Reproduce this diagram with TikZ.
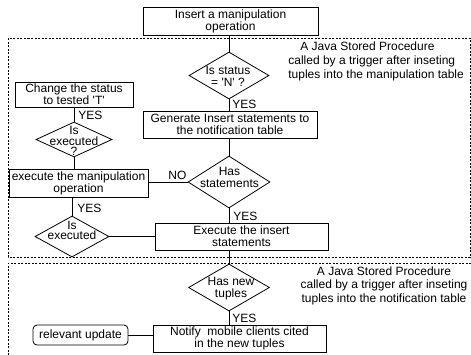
\documentclass[tikz,border=0pt]{standalone}
\usepackage{fontspec}
\setmainfont{Liberation Sans}[Ligatures=TeXOff]
\usetikzlibrary{shapes.geometric}
\newcommand\myfs{\fontsize{12}{12}\selectfont}
\newcommand\myfst{\fontsize{12}{10.5}\selectfont}
\begin{document}
\begin{tikzpicture}[x=1pt,y=-1pt, line width=0.8pt,
  box/.style={draw, rectangle, inner sep=0pt, align=center, font=\myfs},
  dia/.style={draw, diamond, inner sep=0pt},
  txt/.style={inner sep=0pt, align=center, font=\myfs},
  lbl/.style={inner sep=0pt, font=\myfs, anchor=west},
  region/.style={draw, dash pattern=on 2pt off 1.5pt, line width=0.7pt}]
\useasboundingbox (0,0) rectangle (471,354);

% dashed regions
\draw[region] (8,38) rectangle (470,257);
\draw[region] (471,263) -- (8,263) -- (8,360);

% main column
\node[box, minimum width=175pt, minimum height=28pt] (top) at (230.5,21) {Insert a manipulation\\operation};
\node[dia, minimum width=80pt, minimum height=47pt] (d1) at (229,75.5) {};
\node[txt] (t1) at (228,76.5) {Is status\\= 'N' ?};
\node[box, minimum width=174pt, minimum height=27pt] (gen) at (230,124.5) {Generate Insert statements to\\the notification table};
\node[dia, minimum width=82pt, minimum height=52pt] (d2) at (229,182) {};
\node[txt] (t2) at (229.5,177.5) {Has\\statements};
\node[box, minimum width=173pt, minimum height=27pt] (ins) at (241.5,236.5) {Execute the insert\\statements};
\node[dia, minimum width=81pt, minimum height=47pt] (d3) at (229,287.5) {};
\node[txt] (t3) at (231,288.5) {Has new\\tuples};
\node[box, minimum width=173pt, minimum height=27pt] (notify) at (239.5,338.5) {Notify\ \ mobile clients cited\\in the new tuples};

% left column
\node[box, minimum width=118pt, minimum height=25pt] (change) at (74,94.5) {Change the status\\to tested 'T'};
\node[dia, minimum width=76pt, minimum height=35pt] (du) at (74,139.5) {};
\node[txt, font=\myfst] (tu) at (74,141) {Is\\executed\\?};
\node[box, minimum width=139pt, minimum height=28pt, font=\fontsize{12}{10.5}\selectfont] (exec) at (78.5,183) {execute the manipulation\\operation};
\node[dia, minimum width=74pt, minimum height=41pt] (dl) at (72,236.5) {};
\node[txt, font=\myfst] (tl) at (72,230.5) {Is\\executed};
\node[box, rounded corners=4pt, minimum width=95pt, minimum height=20pt] (rel) at (80.5,335) {relevant update};

% annotations
\node[inner sep=0pt, anchor=west, align=left, font=\fontsize{12}{14}\selectfont] (j1) at (288,61)
  {\hspace*{12pt}A Java Stored Procedure\\called by a trigger after inseting\\tuples into the manipulation table};
\node[inner sep=0pt, align=center, font=\fontsize{12}{13.5}\selectfont] (j2) at (384,285.5)
  {A Java Stored Procedure\\called by a trigger after inseting\\tuples into the notification table};

% labels
\node[lbl] (y1) at (232,104) {YES};
\node[lbl] (y2) at (233,216) {YES};
\node[lbl] (y3) at (232,318) {YES};
\node[lbl] (y4) at (78,115) {YES};
\node[lbl] (y5) at (77,208) {YES};
\node[lbl] (no) at (168,175) {NO};

% connectors
\draw (top.south -| d1.north) -- (d1.north);
\draw (d1.south) -- (d1.south |- gen.north);
\draw (gen.south -| d2.north) -- (d2.north);
\draw (d2.south) -- (d2.south |- ins.north);
\draw (ins.south -| d3.north) -- (d3.north);
\draw (d3.south) -- (d3.south |- notify.north);
\draw (exec.east |- d2.west) -- (d2.west);
\draw (change.south -| du.north) -- (du.north);
\draw (du.south) -- (du.south |- exec.north);
\draw (dl.north |- exec.south) -- (dl.north);
\draw (dl.east) -- (dl.east -| ins.west);
\draw (rel.east) -- (rel.east -| notify.west);
\end{tikzpicture}
\end{document}
